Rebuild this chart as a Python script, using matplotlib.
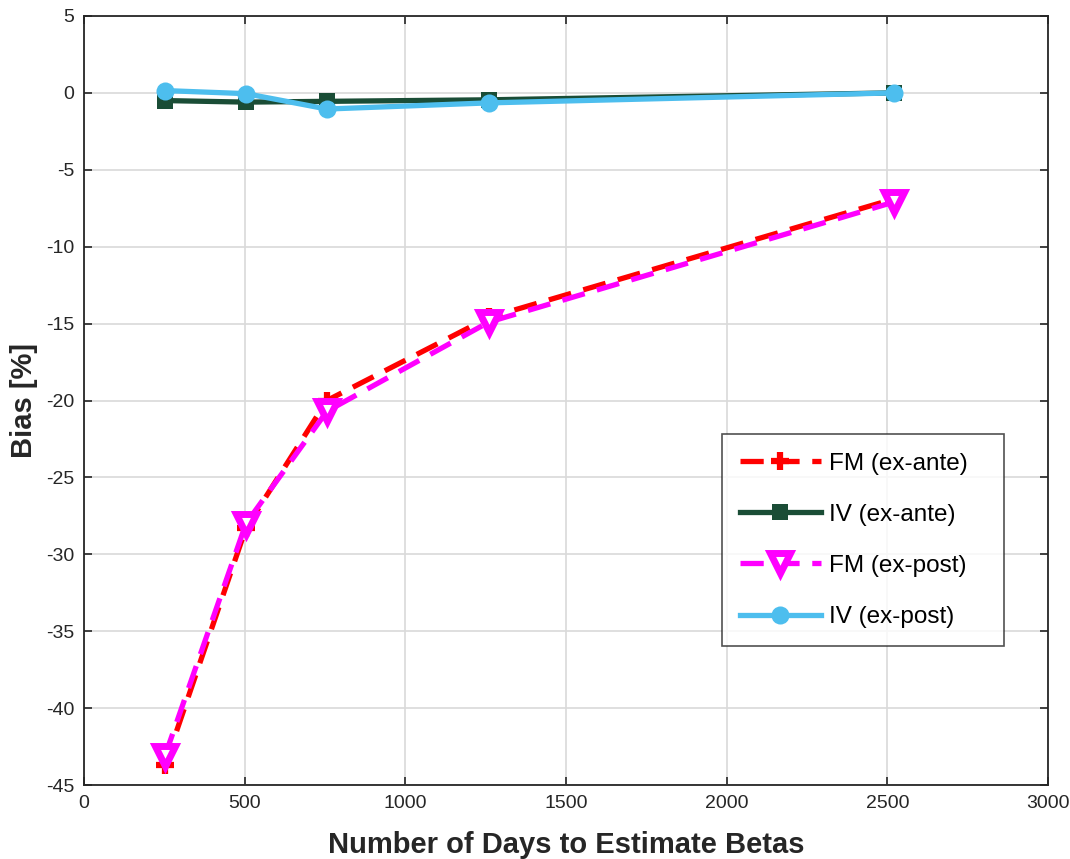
import matplotlib
matplotlib.use("Agg")
import matplotlib.pyplot as plt

plt.rcParams["font.family"] = ["Liberation Sans", "DejaVu Sans"]
plt.rcParams["axes.unicode_minus"] = False

# ── Data ───────────────────────────────────────────────────────────────────────
days = [252, 504, 756, 1260, 2520]
fm_ante = [-43.7, -28.3, -20.0, -14.6, -6.9]
iv_ante = [-0.5, -0.6, -0.55, -0.45, 0.0]
fm_post = [-43.1, -28.0, -20.7, -14.9, -7.1]
iv_post = [0.15, -0.05, -1.05, -0.65, 0.0]

x_ticks = [0, 500, 1000, 1500, 2000, 2500, 3000]
y_ticks = list(range(-45, 6, 5))

# ── Plot ───────────────────────────────────────────────────────────────────────
fig = plt.figure(figsize=(10.7, 8.59), dpi=100)
ax = fig.add_axes([0.0785, 0.0861, 0.9009, 0.8953])

lw = 3.8
dash = (0, (4.4, 2.4))
ax.plot(days, fm_ante, color="#FF0000", linestyle=dash, linewidth=lw,
        marker="+", markersize=13, markeredgewidth=4.5, label="FM (ex-ante)", zorder=3)
ax.plot(days, iv_ante, color="#1A4D36", linestyle="-", linewidth=lw,
        marker="s", markersize=11, markeredgewidth=0, label="IV (ex-ante)", zorder=3)
ax.plot(days, fm_post, color="#FF00FF", linestyle=dash, linewidth=lw,
        marker="v", markersize=15, markerfacecolor="white", markeredgewidth=5,
        label="FM (ex-post)", zorder=4)
ax.plot(days, iv_post, color="#4DBEEE", linestyle="-", linewidth=lw,
        marker="o", markersize=13, markeredgewidth=0, label="IV (ex-post)", zorder=4)

ax.set_xlim(0, 3000)
ax.set_ylim(-45, 5)
ax.set_xticks(x_ticks)
ax.set_yticks(y_ticks)
ax.tick_params(direction="in", length=6, width=1.2, labelsize=14, colors="#262626",
               top=True, right=True, pad=7)
for sp in ax.spines.values():
    sp.set_linewidth(1.3)
    sp.set_color("#262626")
ax.grid(True, color="#D9D9D9", linewidth=1.2)
ax.set_axisbelow(True)

ax.set_xlabel("Number of Days to Estimate Betas", fontsize=21, fontweight="bold",
              color="#262626", labelpad=14)
ax.set_ylabel("Bias [%]", fontsize=21, fontweight="bold", color="#262626", labelpad=6)

leg = ax.legend(loc="upper left", bbox_to_anchor=(0.662, 0.456, 0.292, 0.0),
                mode="expand", fontsize=17.5, frameon=True, fancybox=False,
                borderpad=0.75, labelspacing=1.2, handlelength=3.3,
                handletextpad=0.35, borderaxespad=0)
leg.get_frame().set_edgecolor("#262626")
leg.get_frame().set_linewidth(1.2)

fig.savefig("out.png", dpi=100)
plt.close()
